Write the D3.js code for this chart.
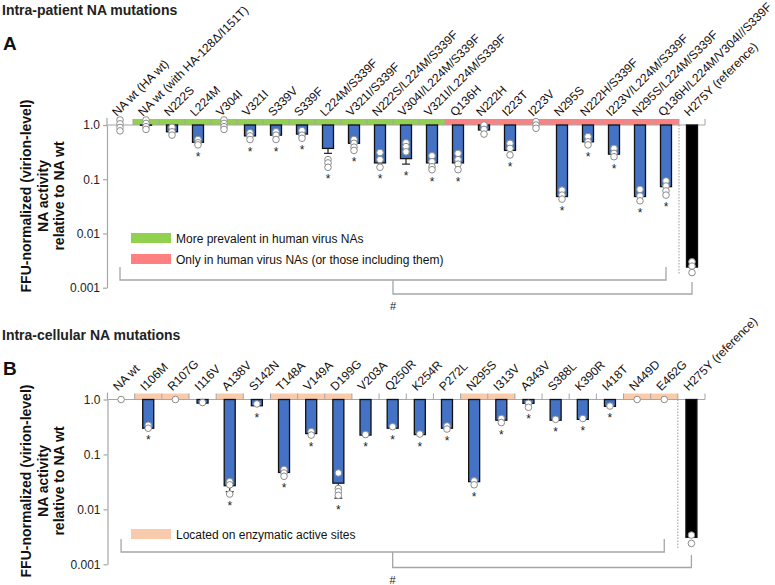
<!DOCTYPE html>
<html>
<head>
<meta charset="utf-8">
<script src="https://cdn.jsdelivr.net/npm/d3@7"></script>
<style>
  html, body { margin: 0; padding: 0; background: #fff; }
  svg { display: block; font-family: Arial, "Liberation Sans", sans-serif; }
</style>
</head>
<body>
<svg id="chart" width="775" height="585"></svg>
<script>
// ---------------- DATA ----------------
const tickValues = [0.001, 0.01, 0.1, 1];
const tickLabels = ["0.001", "0.01", "0.1", "1.0"];
const yTitle = ["FFU-normalized (virion-level)", "NA activity", "relative to NA wt"];

// Panel A: intra-patient NA mutations
const catsA = ["NA wt (HA wt)", "NA wt (with HA-128\u0394/I151T)", "N222S", "L224M", "V304I", "V321I",
  "S339V", "S339F", "L224M/S339F", "V321I/S339F", "N222S/L224M/S339F", "V304I/L224M/S339F",
  "V321I/L224M/S339F", "Q136H", "N222H", "I223T", "I223V", "N295S", "N222H/S339F",
  "I223V/L224M/S339F", "N295S/L224M/S339F", "Q136H/L224M/V304I//S339F", "H275Y (reference)"];
const valsA = [1.0, 0.99, 0.75, 0.48, 1.0, 0.63, 0.65, 0.68, 0.37, 0.46, 0.20, 0.24,
  0.20, 0.20, 0.81, 0.34, 1.0, 0.048, 0.49, 0.29, 0.048, 0.073, 0.0024];
const pointsA = [
  [1.24, 1.05, 0.9, 0.78], [1.24, 1.07, 0.93, 0.83], [0.91, 0.75, 0.65], [0.54, 0.47, 0.43],
  [1.24, 1.07, 0.93, 0.83], [0.72, 0.63, 0.54], [0.75, 0.65, 0.54], [0.79, 0.65, 0.57],
  [0.23, 0.20, 0.166], [0.54, 0.46, 0.39, 0.34], [0.31, 0.23, 0.166], [0.47, 0.40, 0.32],
  [0.27, 0.21, 0.17, 0.15], [0.30, 0.23, 0.19, 0.15], [1.0, 0.83, 0.68], [0.46, 0.37, 0.28],
  [1.15, 1.0, 0.87], [0.063, 0.051, 0.043], [0.61, 0.49, 0.43], [0.37, 0.30, 0.26],
  [0.065, 0.049, 0.04], [0.093, 0.075, 0.061, 0.051], [0.0030, 0.0025, 0.0019]];
const errLowA = [null, null, null, null, null, null, null, null, 0.30, null, null, 0.19,
  null, null, null, null, null, null, null, null, null, null, null];
const starA = [0,0,0,1,0,1,1,1,1,1,1,1,1,1,0,1,0,1,1,1,1,1,0];
const groupA = [null, "prev", "prev", "prev", "prev", "prev", "prev", "prev", "prev", "prev", "prev", "prev",
  "prev", "human", "human", "human", "human", "human", "human", "human", "human", "human", null];
const legendA = [["prev", "More prevalent in human virus NAs"],
  ["human", "Only in human virus NAs (or those including them)"]];

// Panel B: intra-cellular NA mutations
const catsB = ["NA wt", "I106M", "R107G", "I116V", "A138V", "S142N", "T148A", "V149A", "D199G",
  "V203A", "Q250R", "K254R", "P272L", "N295S", "I313V", "A343V", "S388L", "K390R", "I418T",
  "N449D", "E462G", "H275Y (reference)"];
const valsB = [1.0, 0.30, 1.0, 0.86, 0.027, 0.77, 0.047, 0.24, 0.030, 0.225, 0.30, 0.23, 0.30,
  0.032, 0.42, 0.85, 0.42, 0.435, 0.75, 1.0, 1.0, 0.0031];
const pointsB = [[1.0], [0.34, 0.30], [1.0], [0.88], [0.032, 0.028, 0.019], [0.83],
  [0.053, 0.046, 0.040], [0.26, 0.225], [0.046, 0.024, 0.021, 0.018], [0.23], [0.32], [0.235],
  [0.33, 0.29], [0.033, 0.028], [0.45, 0.38], [0.85, 0.72], [0.435], [0.45], [0.76],
  [1.0], [1.0], [0.0034, 0.0024]];
const errLowB = [null, null, null, null, 0.021, null, null, null, 0.016, null, null, null, null,
  null, null, null, null, null, null, null, null, null];
const starB = [0,1,0,0,1,1,1,1,1,1,1,1,1,1,1,1,1,1,1,0,0,0];
const groupB = [null, "site", "site", null, "site", null, "site", "site", "site", null, null, null, null,
  "site", "site", null, null, null, null, "site", "site", null];
const legendB = [["site", "Located on enzymatic active sites"]];

// ---------------- STYLE ----------------
const colors = { prev: "#92D050", human: "#FF8080", site: "#F8CBAD" };
const axisGrey = "#A6A6A6";
const barBlue = "#4472C4";

const svg = d3.select("#chart");

function panel(o) {
  const g = svg.append("g");
  const x = d3.scaleBand().domain(o.cats).range([o.x0, o.x1]);
  const y = d3.scaleLog().domain([0.001, 1]).range([o.yBot, o.yTop]);
  const cx = c => x(c) + x.bandwidth() / 2;
  const n = o.cats.length;
  const barW = 11;

  // titles
  g.append("text").attr("x", 2).attr("y", o.titleY).attr("font-size", 14).attr("font-weight", "bold")
    .attr("fill", "#222").text(o.title);
  g.append("text").attr("x", 3).attr("y", o.letterY).attr("font-size", 19).attr("font-weight", "bold")
    .attr("fill", "#111").text(o.letter);

  // y axis
  const ax = g.append("g").attr("transform", `translate(${o.x0},0)`)
    .call(d3.axisLeft(y).tickValues(tickValues).tickFormat((d, i) => tickLabels[i]).tickSize(4).tickSizeOuter(0).tickPadding(3));
  ax.select(".domain").attr("stroke", axisGrey).attr("stroke-width", 1.2);
  ax.selectAll(".tick line").attr("stroke", axisGrey).attr("stroke-width", 1.2);
  ax.selectAll(".tick text").attr("font-size", 12).attr("fill", "#222").attr("font-family", "Arial, 'Liberation Sans', sans-serif");
  g.append("line").attr("x1", o.x0).attr("x2", o.x0).attr("y1", o.yTop - 7).attr("y2", o.yTop)
    .attr("stroke", axisGrey).attr("stroke-width", 1.2);

  // y title
  const yt = g.append("text").attr("transform", `translate(${o.titleX},${o.titleCY}) rotate(-90)`)
    .attr("text-anchor", "middle").attr("font-size", 14).attr("font-weight", "bold").attr("fill", "#111");
  yTitle.forEach((t, i) => yt.append("tspan").attr("x", 0).attr("y", (i - 1) * 16.5).attr("dy", "0.35em").text(t));

  // group bands
  g.selectAll(".band").data(o.cats.filter((c, i) => o.groups[i])).join("rect")
    .attr("x", c => x(c)).attr("width", x.bandwidth())
    .attr("y", y(1) - 6).attr("height", 6)
    .attr("fill", c => colors[o.groups[o.cats.indexOf(c)]]);

  // 1.0 baseline and category separators
  g.append("line").attr("x1", o.x0).attr("x2", o.x1).attr("y1", y(1)).attr("y2", y(1))
    .attr("stroke", axisGrey).attr("stroke-width", 1.2);
  g.selectAll(".sep").data(o.cats.slice(1).concat([null])).join("line")
    .attr("x1", (c, i) => c ? x(c) : o.x1).attr("x2", (c, i) => c ? x(c) : o.x1)
    .attr("y1", y(1) - 6).attr("y2", y(1)).attr("stroke", axisGrey).attr("stroke-width", 1);

  // dotted separator before reference
  const ref = o.cats[n - 1];
  g.append("line").attr("x1", x(ref)).attr("x2", x(ref)).attr("y1", y(1)).attr("y2", o.dotEnd)
    .attr("stroke", "#999").attr("stroke-width", 1).attr("stroke-dasharray", "1.5,1.5");

  // bars
  g.selectAll(".bar").data(o.cats).join("rect")
    .attr("x", c => cx(c) - barW / 2).attr("width", barW)
    .attr("y", y(1))
    .attr("height", (c, i) => Math.max(0, y(o.vals[i]) - y(1)))
    .attr("fill", (c, i) => i === n - 1 ? "#000" : barBlue)
    .attr("stroke", "#111").attr("stroke-width", 1.3);

  // error bars (lower)
  o.cats.forEach((c, i) => {
    const e = o.errLow[i];
    if (e == null) return;
    g.append("line").attr("x1", cx(c)).attr("x2", cx(c)).attr("y1", y(o.vals[i])).attr("y2", y(e))
      .attr("stroke", "#222").attr("stroke-width", 1.2);
    g.append("line").attr("x1", cx(c) - 4).attr("x2", cx(c) + 4).attr("y1", y(e)).attr("y2", y(e))
      .attr("stroke", "#222").attr("stroke-width", 1.2);
  });

  // points
  o.cats.forEach((c, i) => {
    g.selectAll(null).data(o.points[i]).join("circle")
      .attr("cx", cx(c)).attr("cy", d => y(d)).attr("r", 3.3)
      .attr("fill", "#fff").attr("stroke", "#8c8c8c").attr("stroke-width", 1);
  });

  // stars
  o.cats.forEach((c, i) => {
    if (!o.stars[i]) return;
    const low = Math.min(d3.min(o.points[i]), o.errLow[i] == null ? Infinity : o.errLow[i], o.vals[i]);
    g.append("text").attr("x", cx(c)).attr("y", y(low) + 16).attr("text-anchor", "middle")
      .attr("font-size", 12).attr("fill", "#222").text("*");
  });

  // category labels
  g.selectAll(".lab").data(o.cats).join("text")
    .attr("transform", c => `translate(${cx(c) - 3},${y(1) - 8}) rotate(-45)`)
    .attr("font-size", 12).attr("fill", "#111").text(c => c);

  // legend
  o.legend.forEach((l, i) => {
    const ly = o.legendY + i * 21;
    g.append("rect").attr("x", 131).attr("y", ly).attr("width", 40).attr("height", 10).attr("fill", colors[l[0]]);
    g.append("text").attr("x", 176).attr("y", ly + 9.5).attr("font-size", 12).attr("fill", "#111").text(l[1]);
  });

  // significance brackets
  const c0 = cx(o.cats[0]), cLast = cx(o.cats[n - 2]), cRef = cx(ref);
  const mid = (c0 + cLast) / 2;
  const b = o.br;
  g.append("path").attr("d", `M${c0},${b[0]}V${b[1]}H${cLast}V${b[0]}`)
    .attr("fill", "none").attr("stroke", axisGrey).attr("stroke-width", 1.3);
  g.append("path").attr("d", `M${mid},${b[1]}V${b[2]}H${cRef}V${b[3]}`)
    .attr("fill", "none").attr("stroke", axisGrey).attr("stroke-width", 1.3);
  g.append("text").attr("x", mid).attr("y", b[2] + 16).attr("text-anchor", "middle")
    .attr("font-size", 11).attr("fill", "#222").text("#");
}

panel({
  cats: catsA, vals: valsA, points: pointsA, errLow: errLowA, stars: starA, groups: groupA, legend: legendA,
  x0: 107, x1: 705, yTop: 125, yBot: 287.7, title: "Intra-patient NA mutations", titleY: 15,
  letter: "A", letterY: 50, titleX: 43, titleCY: 196, dotEnd: 275, legendY: 233,
  br: [267, 280, 294, 282]
});
panel({
  cats: catsB, vals: valsB, points: pointsB, errLow: errLowB, stars: starB, groups: groupB, legend: legendB,
  x0: 107.5, x1: 705, yTop: 399.5, yBot: 564.3, title: "Intra-cellular NA mutations", titleY: 340,
  letter: "B", letterY: 375, titleX: 43, titleCY: 481, dotEnd: 549, legendY: 529,
  br: [539, 552, 567.5, 555]
});
</script>
</body>
</html>
